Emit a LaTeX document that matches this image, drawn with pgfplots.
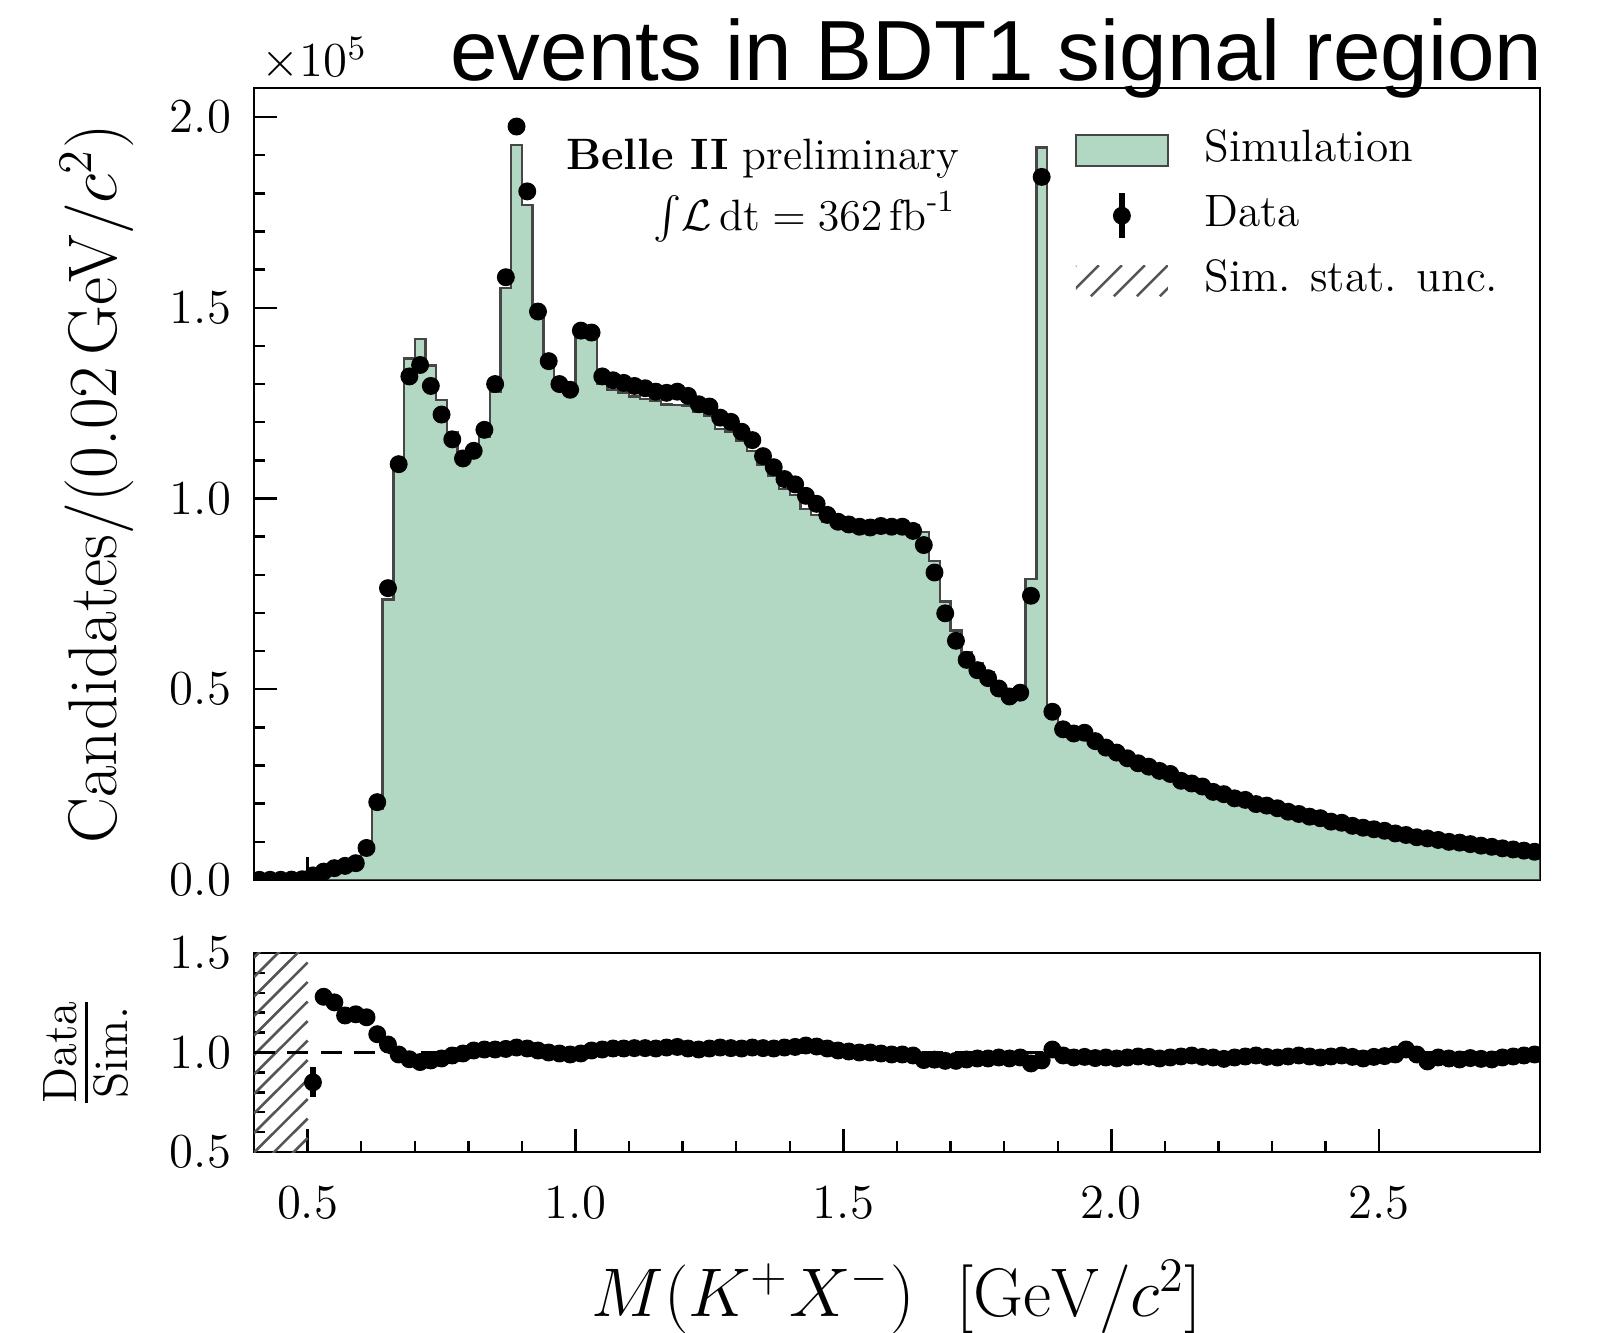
\RequirePackage{fix-cm}
\documentclass[border=0pt]{standalone}
\usepackage{fontspec}
\usepackage{amsmath}
\usepackage{pgfplots}
\pgfplotsset{compat=1.18}
\usepackage{pgfplotstable}
\newfontfamily\titlefont{Liberation Sans}
\definecolor{simgreen}{RGB}{178,216,195}
\definecolor{simedge}{RGB}{70,70,70}
\definecolor{hatchgray}{RGB}{85,85,85}

\pgfplotstableread{
lo sim
0.40 0.0000
0.42 0.0000
0.44 0.0000
0.46 0.0000
0.48 0.0000
0.50 0.0141
0.52 0.0172
0.54 0.0248
0.56 0.0312
0.58 0.0369
0.60 0.0714
0.62 0.1868
0.64 0.7356
0.66 1.1010
0.68 1.3665
0.70 1.4181
0.72 1.3490
0.74 1.2577
0.76 1.1726
0.78 1.1106
0.80 1.1139
0.82 1.1626
0.84 1.2808
0.86 1.5521
0.88 1.9268
0.90 1.7696
0.92 1.4752
0.94 1.3600
0.96 1.3065
0.98 1.2980
1.00 1.4472
1.02 1.4208
1.04 1.3005
1.06 1.2843
1.08 1.2775
1.10 1.2671
1.12 1.2613
1.14 1.2549
1.16 1.2459
1.18 1.2451
1.20 1.2441
1.22 1.2286
1.24 1.2167
1.26 1.1824
1.28 1.1751
1.30 1.1520
1.32 1.1249
1.34 1.0871
1.36 1.0608
1.38 1.0254
1.40 1.0088
1.42 0.9729
1.44 0.9573
1.46 0.9382
1.48 0.9297
1.50 0.9274
1.52 0.9260
1.54 0.9240
1.56 0.9327
1.58 0.9354
1.60 0.9354
1.62 0.9289
1.64 0.9127
1.66 0.8361
1.68 0.7296
1.70 0.6545
1.72 0.5979
1.74 0.5670
1.76 0.5454
1.78 0.5149
1.80 0.4959
1.82 0.5036
1.84 0.7884
1.86 1.9198
1.88 0.4345
1.90 0.4010
1.92 0.3938
1.94 0.3947
1.96 0.3745
1.98 0.3559
2.00 0.3443
2.02 0.3272
2.04 0.3122
2.06 0.3037
2.08 0.2948
2.10 0.2851
2.12 0.2653
2.14 0.2569
2.16 0.2505
2.18 0.2369
2.20 0.2324
2.22 0.2195
2.24 0.2143
2.26 0.2020
2.28 0.1994
2.30 0.1928
2.32 0.1827
2.34 0.1756
2.36 0.1694
2.38 0.1662
2.40 0.1561
2.42 0.1523
2.44 0.1452
2.46 0.1412
2.48 0.1360
2.50 0.1314
2.52 0.1232
2.54 0.1163
2.56 0.1131
2.58 0.1141
2.60 0.1077
2.62 0.1031
2.64 0.1016
2.66 0.0967
2.68 0.0930
2.70 0.0902
2.72 0.0851
2.74 0.0816
2.76 0.0782
2.78 0.0747
2.80 0.0747
}\simtab

\pgfplotstableread{
c data ratio rerr
0.41 0.0005 nan 0
0.43 0.0005 nan 0
0.45 0.0005 nan 0
0.47 0.0010 nan 0
0.49 0.0020 nan 0
0.51 0.012 0.850 0.075
0.53 0.022 1.280 0.020
0.55 0.031 1.252 0.015
0.57 0.037 1.186 0.012
0.59 0.044 1.192 0.010
0.61 0.084 1.177 0.008
0.63 0.204 1.092 0.005
0.65 0.765 1.040 0.003
0.67 1.090 0.990 0.003
0.69 1.320 0.966 0.003
0.71 1.350 0.952 0.003
0.73 1.295 0.960 0.003
0.75 1.220 0.970 0.003
0.77 1.155 0.985 0.003
0.79 1.105 0.995 0.003
0.81 1.125 1.010 0.003
0.83 1.180 1.015 0.003
0.85 1.300 1.015 0.003
0.87 1.580 1.018 0.003
0.89 1.975 1.025 0.003
0.91 1.805 1.020 0.003
0.93 1.490 1.010 0.003
0.95 1.360 1.000 0.003
0.97 1.300 0.995 0.003
0.99 1.285 0.990 0.003
1.01 1.440 0.995 0.003
1.03 1.435 1.010 0.003
1.05 1.320 1.015 0.003
1.07 1.310 1.020 0.003
1.09 1.303 1.020 0.003
1.11 1.295 1.022 0.003
1.13 1.289 1.022 0.003
1.15 1.280 1.020 0.003
1.17 1.277 1.025 0.003
1.19 1.280 1.028 0.003
1.21 1.269 1.020 0.003
1.23 1.247 1.015 0.003
1.25 1.241 1.020 0.003
1.27 1.212 1.025 0.003
1.29 1.201 1.022 0.003
1.31 1.175 1.020 0.003
1.33 1.153 1.025 0.003
1.35 1.111 1.022 0.003
1.37 1.082 1.020 0.003
1.39 1.051 1.025 0.003
1.41 1.037 1.028 0.003
1.43 1.007 1.035 0.003
1.45 0.986 1.030 0.003
1.47 0.957 1.020 0.003
1.49 0.939 1.010 0.003
1.51 0.932 1.005 0.003
1.53 0.926 1.000 0.003
1.55 0.924 1.000 0.003
1.57 0.928 0.995 0.003
1.59 0.926 0.990 0.003
1.61 0.926 0.990 0.003
1.63 0.915 0.985 0.003
1.65 0.878 0.962 0.003
1.67 0.806 0.964 0.003
1.69 0.699 0.958 0.003
1.71 0.627 0.958 0.003
1.73 0.577 0.965 0.003
1.75 0.550 0.970 0.003
1.77 0.529 0.970 0.003
1.79 0.502 0.975 0.003
1.81 0.481 0.970 0.003
1.83 0.491 0.975 0.003
1.85 0.745 0.945 0.003
1.87 1.843 0.960 0.003
1.89 0.441 1.015 0.003
1.91 0.395 0.985 0.003
1.93 0.384 0.975 0.003
1.95 0.386 0.978 0.003
1.97 0.364 0.972 0.003
1.99 0.347 0.975 0.003
2.01 0.334 0.970 0.003
2.03 0.319 0.975 0.003
2.05 0.306 0.980 0.003
2.07 0.297 0.978 0.003
2.09 0.286 0.970 0.003
2.11 0.278 0.975 0.003
2.13 0.260 0.980 0.003
2.15 0.253 0.985 0.003
2.17 0.245 0.978 0.003
2.19 0.231 0.975 0.003
2.21 0.225 0.968 0.003
2.23 0.214 0.975 0.003
2.25 0.210 0.980 0.003
2.27 0.199 0.985 0.003
2.29 0.195 0.978 0.003
2.31 0.188 0.975 0.003
2.33 0.179 0.980 0.003
2.35 0.173 0.985 0.003
2.37 0.166 0.980 0.003
2.39 0.162 0.975 0.003
2.41 0.153 0.980 0.003
2.43 0.150 0.985 0.003
2.45 0.142 0.978 0.003
2.47 0.137 0.970 0.003
2.49 0.133 0.978 0.003
2.51 0.129 0.982 0.003
2.53 0.122 0.990 0.003
2.55 0.118 1.015 0.003
2.57 0.112 0.990 0.003
2.59 0.109 0.955 0.003
2.61 0.105 0.975 0.003
2.63 0.100 0.970 0.003
2.65 0.098 0.965 0.003
2.67 0.094 0.972 0.003
2.69 0.090 0.968 0.003
2.71 0.087 0.965 0.003
2.73 0.083 0.975 0.003
2.75 0.080 0.980 0.003
2.77 0.077 0.985 0.003
2.79 0.074 0.990 0.003
}\datatab

\pgfplotsset{
  common/.style={
    scale only axis,
    width=12.86cm,
    xmin=0.4, xmax=2.8,
    tick pos=left,
    tick align=inside,
    major tick length=6.5pt,
    minor tick length=3.2pt,
    minor x tick num=4,
    minor y tick num=4,
    axis line style={line width=0.85pt},
    every tick/.style={black, line width=0.7pt},
    tick label style={font=\fontsize{13.9}{16}\selectfont},
    label style={font=\fontsize{19.6}{23}\selectfont},
    xtick={0.5,1.0,1.5,2.0,2.5},
    scaled ticks=false,
    xticklabel style={/pgf/number format/fixed, /pgf/number format/fixed zerofill, /pgf/number format/precision=1},
    yticklabel style={/pgf/number format/fixed, /pgf/number format/fixed zerofill, /pgf/number format/precision=1},
    clip marker paths=true,
  }
}

\begin{document}
\begin{tikzpicture}
\useasboundingbox (0,0) rectangle (16.04,13.33);

\begin{axis}[common,
  at={(2.54cm,4.53cm)}, anchor=south west,
  height=7.92cm,
  ymin=0, ymax=2.076,
  ytick={0,0.5,1.0,1.5,2.0},
  xticklabels={},
  yticklabel style={xshift=-3pt},
  ylabel={Candidates/(0.02\,GeV/$c^{2}$)},
  ylabel style={at={(axis description cs:-0.122,0.5)}, anchor=center},
  legend cell align=left,
  legend style={draw=none, fill=none, at={(axis description cs:0.6376,0.955)}, anchor=north west,
    font=\fontsize{12.9}{15}\selectfont, row sep=3.5pt, inner sep=0pt,
    nodes={inner sep=1.5pt, text height=9pt, text depth=3pt}},
  after end axis/.code={
    \node[anchor=base west, inner sep=0pt, font=\fontsize{13.9}{16}\selectfont]
      at (axis description cs:0.0055,1.0139) {$\times10^{5}$};
    \node[anchor=base east, inner sep=0pt, font=\titlefont\fontsize{24.3}{28}\selectfont]
      at (axis description cs:1.0023,1.0101) {events in BDT1 signal region};
  },
]
\addplot[const plot, fill=simgreen, draw=simedge, line width=0.7pt, forget plot]
  table[x=lo, y=sim]{\simtab} \closedcycle;
\addplot[only marks, mark=*, mark size=2.35pt, black, forget plot]
  table[x=c, y=data]{\datatab};

\addlegendimage{legend image code/.code={\draw[fill=simgreen, draw=simedge, line width=0.7pt] (0cm,-0.155cm) rectangle (0.92cm,0.155cm);}}
\addlegendentry{\hspace{0.3cm}Simulation}
\addlegendimage{legend image code/.code={\draw[black, line width=1.8pt] (0.46cm,-0.225cm) -- (0.46cm,0.225cm); \fill[black] (0.46cm,0cm) circle (2.35pt);}}
\addlegendentry{\hspace{0.3cm}Data}
\addlegendimage{legend image code/.code={
  \begin{scope}
  \path[clip, draw=none, fill=none] (0cm,-0.155cm) rectangle (0.92cm,0.155cm);
  \foreach \i in {-0.31,-0.08,0.15,0.38,0.61,0.84}{
    \draw[hatchgray, line width=0.75pt] (\i cm,-0.155cm) -- ++(0.31cm,0.31cm);}
  \end{scope}}}
\addlegendentry{\hspace{0.3cm}Sim. stat. unc.}

\node[anchor=base east, inner sep=0pt, font=\fontsize{12.5}{15}\selectfont]
  at (axis description cs:0.549,0.8977) {\textbf{Belle II} preliminary};
\node[anchor=base east, inner sep=0pt, font=\fontsize{12.5}{15}\selectfont]
  at (axis description cs:0.546,0.8207) {$\int\!\mathcal{L}\,\mathrm{dt}=362\,\mathrm{fb}^{\text{-}1}$};
\end{axis}

\begin{axis}[common,
  at={(2.54cm,1.81cm)}, anchor=south west,
  height=1.99cm,
  ymin=0.5, ymax=1.5,
  ytick={0.5,1.0,1.5},
  yticklabel style={xshift=-3pt},
  xticklabel style={yshift=-6.5pt},
  xlabel={$M(K^{+}X^{-})\ \ [\mathrm{GeV}/c^{2}]$},
  xlabel style={at={(axis description cs:0.5,-0.729)}, anchor=center},
  ylabel={$\frac{\mathrm{Data}}{\mathrm{Sim.}}$},
  ylabel style={at={(axis description cs:-0.1306,0.5)}, anchor=center},
]
% hatched simulation statistical uncertainty (no simulation below 0.5)
\addplot[hatchgray, line width=0.75pt, unbounded coords=jump] coordinates {
  (0.4,0.203) (0.5,0.472) (0.45,nan)
  (0.4,0.301) (0.5,0.570) (0.45,nan)
  (0.4,0.399) (0.5,0.668) (0.45,nan)
  (0.4,0.497) (0.5,0.766) (0.45,nan)
  (0.4,0.595) (0.5,0.864) (0.45,nan)
  (0.4,0.693) (0.5,0.962) (0.45,nan)
  (0.4,0.791) (0.5,1.060) (0.45,nan)
  (0.4,0.889) (0.5,1.158) (0.45,nan)
  (0.4,0.987) (0.5,1.256) (0.45,nan)
  (0.4,1.085) (0.5,1.354) (0.45,nan)
  (0.4,1.183) (0.5,1.452) (0.45,nan)
  (0.4,1.281) (0.5,1.550) (0.45,nan)
  (0.4,1.379) (0.5,1.648) (0.45,nan)
  (0.4,1.477) (0.5,1.746)
};
\addplot[black, line width=0.7pt, dash pattern=on 6pt off 3.5pt]
  coordinates {(0.4,1.0) (2.8,1.0)};
\addplot[only marks, mark=*, mark size=2.35pt, black,
  error bars/.cd, y dir=both, y explicit, error mark=none,
  error bar style={line width=1.7pt}]
  table[x=c, y=ratio, y error=rerr]{\datatab};
\end{axis}
\end{tikzpicture}
\end{document}
